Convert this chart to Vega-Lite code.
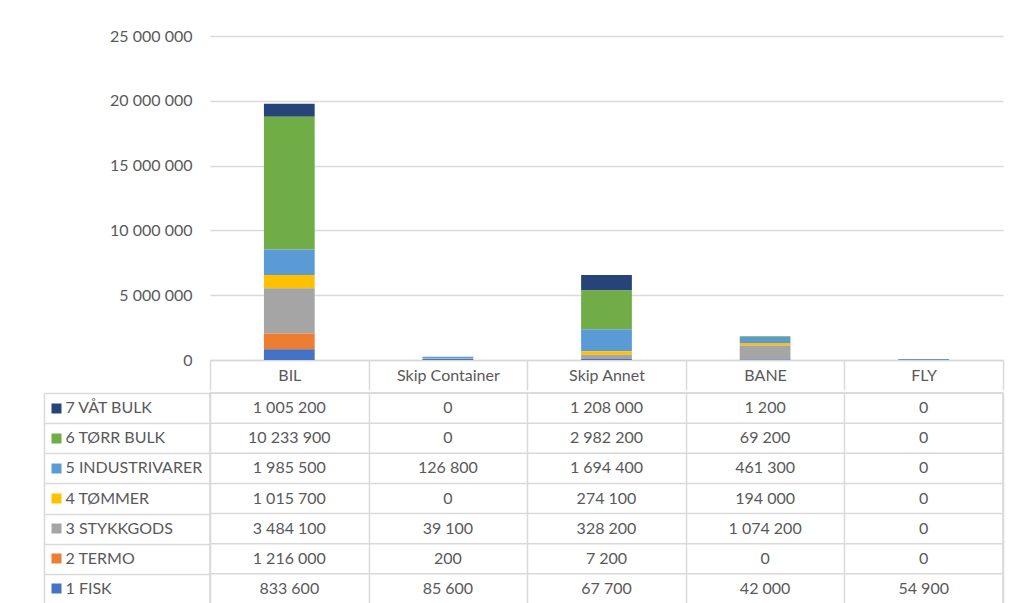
{
  "$schema": "https://vega.github.io/schema/vega-lite/v6.json",
  "background": "white",
  "padding": {"left": 42, "top": 28, "right": 4, "bottom": 0},
  "config": {
    "font": "Lato",
    "view": {"stroke": null},
    "locale": {"number": {"decimal": ",", "thousands": " ", "grouping": [3], "currency": ["", ""]}},
    "axis": {"labelFont": "Lato", "labelFontSize": 16, "labelColor": "#595959", "gridColor": "#D9D9D9", "domainColor": "#D9D9D9", "tickColor": "#D9D9D9"}
  },
  "datasets": {
    "freight": [
      {"mode": "BIL", "group": "7 VÅT BULK", "tonn": 1005200},
      {"mode": "BIL", "group": "6 TØRR BULK", "tonn": 10233900},
      {"mode": "BIL", "group": "5 INDUSTRIVARER", "tonn": 1985500},
      {"mode": "BIL", "group": "4 TØMMER", "tonn": 1015700},
      {"mode": "BIL", "group": "3 STYKKGODS", "tonn": 3484100},
      {"mode": "BIL", "group": "2 TERMO", "tonn": 1216000},
      {"mode": "BIL", "group": "1 FISK", "tonn": 833600},
      {"mode": "Skip Container", "group": "7 VÅT BULK", "tonn": 0},
      {"mode": "Skip Container", "group": "6 TØRR BULK", "tonn": 0},
      {"mode": "Skip Container", "group": "5 INDUSTRIVARER", "tonn": 126800},
      {"mode": "Skip Container", "group": "4 TØMMER", "tonn": 0},
      {"mode": "Skip Container", "group": "3 STYKKGODS", "tonn": 39100},
      {"mode": "Skip Container", "group": "2 TERMO", "tonn": 200},
      {"mode": "Skip Container", "group": "1 FISK", "tonn": 85600},
      {"mode": "Skip Annet", "group": "7 VÅT BULK", "tonn": 1208000},
      {"mode": "Skip Annet", "group": "6 TØRR BULK", "tonn": 2982200},
      {"mode": "Skip Annet", "group": "5 INDUSTRIVARER", "tonn": 1694400},
      {"mode": "Skip Annet", "group": "4 TØMMER", "tonn": 274100},
      {"mode": "Skip Annet", "group": "3 STYKKGODS", "tonn": 328200},
      {"mode": "Skip Annet", "group": "2 TERMO", "tonn": 7200},
      {"mode": "Skip Annet", "group": "1 FISK", "tonn": 67700},
      {"mode": "BANE", "group": "7 VÅT BULK", "tonn": 1200},
      {"mode": "BANE", "group": "6 TØRR BULK", "tonn": 69200},
      {"mode": "BANE", "group": "5 INDUSTRIVARER", "tonn": 461300},
      {"mode": "BANE", "group": "4 TØMMER", "tonn": 194000},
      {"mode": "BANE", "group": "3 STYKKGODS", "tonn": 1074200},
      {"mode": "BANE", "group": "2 TERMO", "tonn": 0},
      {"mode": "BANE", "group": "1 FISK", "tonn": 42000},
      {"mode": "FLY", "group": "7 VÅT BULK", "tonn": 0},
      {"mode": "FLY", "group": "6 TØRR BULK", "tonn": 0},
      {"mode": "FLY", "group": "5 INDUSTRIVARER", "tonn": 0},
      {"mode": "FLY", "group": "4 TØMMER", "tonn": 0},
      {"mode": "FLY", "group": "3 STYKKGODS", "tonn": 0},
      {"mode": "FLY", "group": "2 TERMO", "tonn": 0},
      {"mode": "FLY", "group": "1 FISK", "tonn": 54900}
    ]
  },
  "spacing": 0,
  "vconcat": [
    {
      "width": 793,
      "height": 324,
      "data": {"name": "freight"},
      "mark": {"type": "bar", "width": {"band": 0.32}},
      "encoding": {
        "x": {
          "field": "mode", "type": "nominal",
          "sort": ["BIL", "Skip Container", "Skip Annet", "BANE", "FLY"],
          "scale": {"domain": ["BIL", "Skip Container", "Skip Annet", "BANE", "FLY"], "paddingInner": 0, "paddingOuter": 0},
          "axis": {"title": null, "orient": "bottom", "domain": true, "domainColor": "#D9D9D9", "domainWidth": 1.5, "ticks": true, "tickBand": "extent", "tickSize": 30, "tickColor": "#D9D9D9", "tickWidth": 1.5, "labelPadding": -15, "labelBaseline": "middle", "labelAngle": 0, "grid": false}
        },
        "y": {
          "field": "tonn", "type": "quantitative",
          "scale": {"domain": [0, 25000000], "nice": false},
          "axis": {"title": null, "values": [0, 5000000, 10000000, 15000000, 20000000, 25000000], "format": ",d", "grid": true, "gridWidth": 1.5, "domain": false, "ticks": false, "labelPadding": 18, "minExtent": 166}
        },
        "color": {
          "field": "group", "type": "nominal",
          "scale": {"domain": ["1 FISK", "2 TERMO", "3 STYKKGODS", "4 TØMMER", "5 INDUSTRIVARER", "6 TØRR BULK", "7 VÅT BULK"],
                    "range": ["#4472C4", "#ED7D31", "#A5A5A5", "#FFC000", "#5B9BD5", "#70AD47", "#264478"]},
          "legend": null
        },
        "order": {"field": "group", "type": "nominal", "sort": "ascending"}
      }
    },
    {
      "width": 793,
      "height": 211,
      "view": {"stroke": "#D9D9D9", "strokeWidth": 1.5},
      "data": {"name": "freight"},
      "resolve": {"axis": {"y": "independent"}},
      "layer": [
        {
          "transform": [{"filter": "datum.mode === 'BIL'"}],
          "mark": {"type": "rule", "color": "#D9D9D9", "strokeWidth": 1.5},
          "encoding": {
            "y": {
              "field": "group", "type": "nominal", "bandPosition": 0,
              "sort": ["7 VÅT BULK", "6 TØRR BULK", "5 INDUSTRIVARER", "4 TØMMER", "3 STYKKGODS", "2 TERMO", "1 FISK"],
              "scale": {"domain": ["7 VÅT BULK", "6 TØRR BULK", "5 INDUSTRIVARER", "4 TØMMER", "3 STYKKGODS", "2 TERMO", "1 FISK"], "paddingInner": 0, "paddingOuter": 0},
              "axis": {
                "title": null, "orient": "left", "offset": 166,
                "domain": true, "domainColor": "#D9D9D9", "domainWidth": 1.5,
                "ticks": true, "tickBand": "extent", "tickSize": -166, "tickColor": "#D9D9D9", "tickWidth": 1.5,
                "labels": false, "grid": false, "minExtent": 0
              }
            }
          }
        },
        {
          "mark": {"type": "text", "font": "Lato", "fontSize": 16, "color": "#595959", "align": "center", "baseline": "middle"},
          "encoding": {
            "x": {
              "field": "mode", "type": "nominal",
              "sort": ["BIL", "Skip Container", "Skip Annet", "BANE", "FLY"],
              "scale": {"domain": ["BIL", "Skip Container", "Skip Annet", "BANE", "FLY"], "paddingInner": 0, "paddingOuter": 0},
              "axis": {"title": null, "orient": "top", "labels": false, "ticks": false, "domain": false, "grid": true, "gridWidth": 1.5, "tickBand": "extent", "minExtent": 0}
            },
            "y": {
              "field": "group", "type": "nominal",
              "sort": ["7 VÅT BULK", "6 TØRR BULK", "5 INDUSTRIVARER", "4 TØMMER", "3 STYKKGODS", "2 TERMO", "1 FISK"],
              "scale": {"domain": ["7 VÅT BULK", "6 TØRR BULK", "5 INDUSTRIVARER", "4 TØMMER", "3 STYKKGODS", "2 TERMO", "1 FISK"], "paddingInner": 0, "paddingOuter": 0},
              "axis": {
                "title": null, "orient": "left", "offset": 149, "domain": false, "grid": false,
                "ticks": true, "tickSize": 10, "tickWidth": 10,
                "tickColor": {"condition": [
                  {"test": "datum.value === '1 FISK'", "value": "#4472C4"},
                  {"test": "datum.value === '2 TERMO'", "value": "#ED7D31"},
                  {"test": "datum.value === '3 STYKKGODS'", "value": "#A5A5A5"},
                  {"test": "datum.value === '4 TØMMER'", "value": "#FFC000"},
                  {"test": "datum.value === '5 INDUSTRIVARER'", "value": "#5B9BD5"},
                  {"test": "datum.value === '6 TØRR BULK'", "value": "#70AD47"}
                ], "value": "#264478"},
                "labelAlign": "left", "labelPadding": -14, "labelLimit": 0, "labelBaseline": "middle",
                "minExtent": 0
              }
            },
            "text": {"field": "tonn", "type": "quantitative", "format": ",d"}
          }
        }
      ]
    }
  ]
}
